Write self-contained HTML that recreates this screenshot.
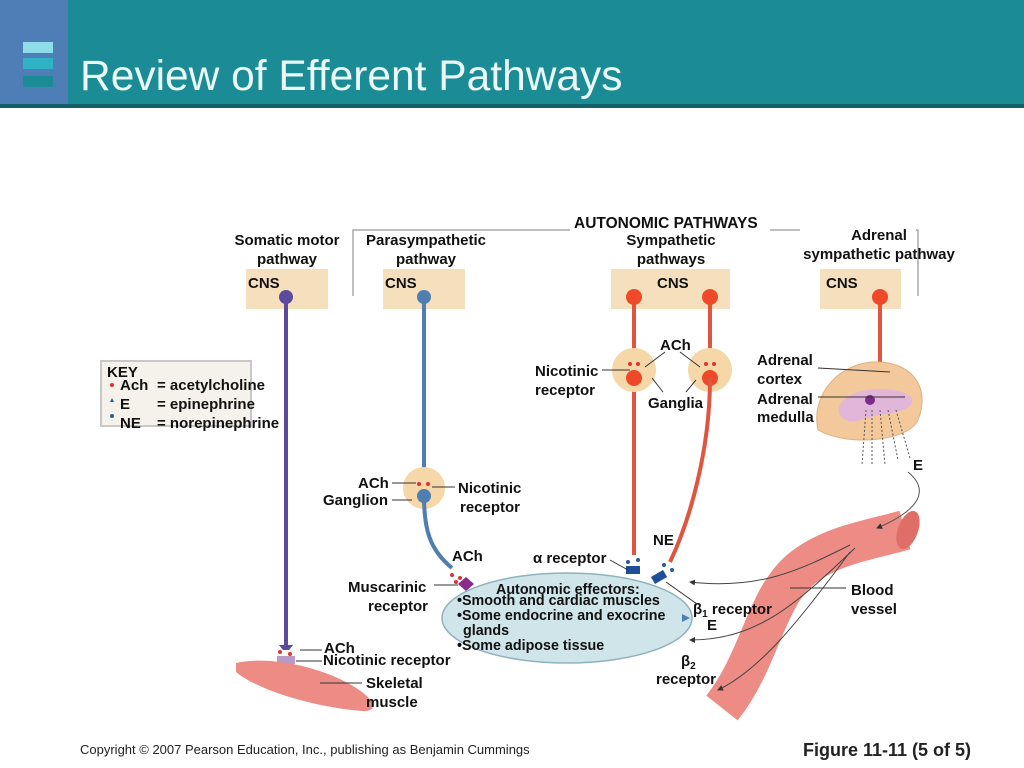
<!DOCTYPE html>
<html><head><meta charset="utf-8"><style>
html,body{margin:0;padding:0;width:1024px;height:768px;overflow:hidden;background:#fff;font-family:"Liberation Sans",Arial,sans-serif}
svg text{font-family:"Liberation Sans",Arial,sans-serif;font-weight:bold;font-size:15px;fill:#111}
</style></head><body>
<svg width="1024" height="768" viewBox="0 0 1024 768" xmlns="http://www.w3.org/2000/svg">
<defs>
<marker id="ah" markerWidth="6" markerHeight="6" refX="5" refY="3" orient="auto"><path d="M0,0L6,3L0,6z" fill="#333"/></marker>
</defs>
<!-- header -->
<rect x="0" y="0" width="1024" height="106" fill="#1b8b95"/>
<rect x="0" y="0" width="68" height="106" fill="#4f7eb6"/>
<rect x="0" y="104" width="1024" height="4" fill="#14606a"/>
<rect x="23" y="42" width="30" height="11" fill="#8fdde8"/>
<rect x="23" y="58" width="30" height="11" fill="#2fb3c4"/>
<rect x="23" y="76" width="30" height="11" fill="#1b8b95"/>
<text x="80" y="90" style="font-weight:normal;font-size:42.5px;fill:#eaf8f8">Review of Efferent Pathways</text>

<!-- blood vessel (behind labels) -->
<path d="M722,708 C760,660 765,600 800,570 C830,545 870,540 905,530" fill="none" stroke="#ec8c84" stroke-width="40"/>
<ellipse cx="908" cy="530" rx="10" ry="20" transform="rotate(20 908 530)" fill="#e06e68"/>
<path d="M850,545 C800,570 760,590 690,582" fill="none" stroke="#444" marker-end="url(#ah)"/>
<path d="M855,548 C800,600 760,640 690,640" fill="none" stroke="#444" marker-end="url(#ah)"/>
<path d="M850,552 C800,620 760,670 718,690" fill="none" stroke="#444" marker-end="url(#ah)"/>
<text x="851" y="595">Blood</text><text x="851" y="614">vessel</text>
<line x1="790" y1="588" x2="846" y2="588" stroke="#333"/>

<!-- bracket -->
<path d="M353,296 V230 H918 V296" fill="none" stroke="#aaa" stroke-width="1.5"/>
<rect x="570" y="214" width="200" height="18" fill="#fff"/>
<text x="574" y="228" style="font-size:15.5px">AUTONOMIC PATHWAYS</text>
<text x="287" y="245" text-anchor="middle">Somatic motor</text>
<text x="287" y="264" text-anchor="middle">pathway</text>
<text x="426" y="245" text-anchor="middle">Parasympathetic</text>
<text x="426" y="264" text-anchor="middle">pathway</text>
<text x="671" y="245" text-anchor="middle">Sympathetic</text>
<text x="671" y="264" text-anchor="middle">pathways</text>
<rect x="800" y="226" width="116" height="18" fill="#fff"/>
<text x="879" y="240" text-anchor="middle">Adrenal</text>
<text x="879" y="259" text-anchor="middle">sympathetic pathway</text>

<!-- CNS boxes -->
<rect x="246" y="269" width="82" height="40" fill="#f5dfbd"/>
<rect x="383" y="269" width="82" height="40" fill="#f5dfbd"/>
<rect x="611" y="269" width="119" height="40" fill="#f5dfbd"/>
<rect x="820" y="269" width="81" height="40" fill="#f5dfbd"/>
<text x="248" y="288">CNS</text><text x="385" y="288">CNS</text>
<text x="657" y="288">CNS</text><text x="826" y="288">CNS</text>

<!-- KEY -->
<rect x="101" y="361" width="150" height="65" fill="#f4f2ea" stroke="#c8c8c8" stroke-width="2"/>
<text x="107" y="377">KEY</text>
<circle cx="112" cy="385" r="2" fill="#d33"/><path d="M110,402l2,-4l2,4z" fill="#2a5a9a"/><circle cx="112" cy="416" r="2" fill="#2a5a9a"/>
<text x="120" y="390">Ach</text><text x="157" y="390">= acetylcholine</text>
<text x="120" y="409">E</text><text x="157" y="409">= epinephrine</text>
<text x="120" y="428">NE</text><text x="157" y="428">= norepinephrine</text>

<!-- somatic -->
<line x1="286" y1="297" x2="286" y2="645" stroke="#5c4b9c" stroke-width="4"/>
<circle cx="286" cy="297" r="7" fill="#5c4b9c"/>
<path d="M279,645h14l-4,5h-6z" fill="#5c4b9c"/>
<circle cx="280" cy="652" r="2" fill="#d33"/><circle cx="290" cy="654" r="2" fill="#d33"/><circle cx="285" cy="658" r="2" fill="#d33"/>
<rect x="277" y="656" width="18" height="8" fill="#b99bc8"/>
<path d="M236,663 C270,655 330,668 362,692 C378,704 375,712 362,711 C320,708 260,692 236,672z" fill="#ec8c84"/>
<line x1="300" y1="650" x2="322" y2="650" stroke="#333"/><text x="324" y="653">ACh</text>
<line x1="296" y1="661" x2="322" y2="661" stroke="#333"/><text x="323" y="665">Nicotinic receptor</text>
<line x1="320" y1="683" x2="362" y2="683" stroke="#333"/><text x="366" y="688">Skeletal</text><text x="366" y="707">muscle</text>

<!-- parasympathetic -->
<line x1="424" y1="297" x2="424" y2="478" stroke="#4f7fb0" stroke-width="4"/>
<circle cx="424" cy="297" r="7" fill="#4f7fb0"/>
<circle cx="424" cy="488" r="21" fill="#f5d7a8"/>
<circle cx="419" cy="484" r="2" fill="#d33"/><circle cx="428" cy="484" r="2" fill="#d33"/>
<circle cx="424" cy="496" r="7" fill="#4f7fb0"/>
<path d="M424,496 C424,530 430,550 452,568" fill="none" stroke="#4f7fb0" stroke-width="4"/>
<circle cx="452" cy="575" r="2" fill="#d33"/><circle cx="460" cy="578" r="2" fill="#d33"/><circle cx="456" cy="582" r="2" fill="#d33"/>
<path d="M458,584l8,-7l8,7l-8,7z" fill="#8a2b8a"/>
<line x1="392" y1="483" x2="416" y2="483" stroke="#333"/><text x="358" y="488">ACh</text>
<line x1="392" y1="500" x2="412" y2="500" stroke="#333"/><text x="323" y="505">Ganglion</text>
<line x1="432" y1="487" x2="455" y2="487" stroke="#333"/><text x="458" y="493">Nicotinic</text><text x="460" y="512">receptor</text>
<text x="452" y="561">ACh</text>
<line x1="434" y1="585" x2="458" y2="585" stroke="#333"/><text x="348" y="592">Muscarinic</text><text x="368" y="611">receptor</text>

<!-- effector ellipse -->
<ellipse cx="567" cy="618" rx="125" ry="45" fill="#cfe5ea" stroke="#8fb3bd" stroke-width="1.5"/>
<g style="font-size:14.3px">
<text x="496" y="594" style="font-size:14.3px">Autonomic effectors:</text>
<text x="457" y="605" style="font-size:14.3px">•Smooth and cardiac muscles</text>
<text x="457" y="620" style="font-size:14.3px">•Some endocrine and exocrine</text>
<text x="463" y="635" style="font-size:14.3px">glands</text>
<text x="457" y="650" style="font-size:14.3px">•Some adipose tissue</text>
</g>

<!-- sympathetic -->
<line x1="634" y1="297" x2="634" y2="555" stroke="#e0553f" stroke-width="4"/>
<circle cx="634" cy="297" r="8" fill="#ee4a2a"/>
<circle cx="634" cy="370" r="22" fill="#f5d7a8"/>
<circle cx="634" cy="378" r="8" fill="#ee4a2a"/>
<circle cx="630" cy="364" r="2" fill="#d33"/><circle cx="638" cy="364" r="2" fill="#d33"/>
<path d="M710,297 V365" stroke="#e0553f" stroke-width="4"/>
<circle cx="710" cy="297" r="8" fill="#ee4a2a"/>
<circle cx="710" cy="370" r="22" fill="#f5d7a8"/>
<circle cx="710" cy="378" r="8" fill="#ee4a2a"/>
<circle cx="706" cy="364" r="2" fill="#d33"/><circle cx="714" cy="364" r="2" fill="#d33"/>
<path d="M710,378 C710,450 690,520 670,562" fill="none" stroke="#e0553f" stroke-width="4"/>
<rect x="626" y="566" width="14" height="8" fill="#1f4f9a"/><rect x="652" y="573" width="14" height="8" fill="#1f4f9a" transform="rotate(-30 659 577)"/>
<circle cx="628" cy="562" r="2" fill="#2a5a9a"/><circle cx="638" cy="560" r="2" fill="#2a5a9a"/><circle cx="664" cy="565" r="2" fill="#2a5a9a"/><circle cx="672" cy="570" r="2" fill="#2a5a9a"/>
<text x="660" y="350">ACh</text>
<line x1="665" y1="352" x2="645" y2="367" stroke="#333"/><line x1="680" y1="352" x2="700" y2="367" stroke="#333"/>
<text x="535" y="376">Nicotinic</text><text x="535" y="395">receptor</text>
<line x1="602" y1="370" x2="630" y2="370" stroke="#333"/>
<text x="648" y="408">Ganglia</text>
<line x1="663" y1="392" x2="652" y2="378" stroke="#333"/><line x1="686" y1="392" x2="696" y2="380" stroke="#333"/>
<text x="653" y="545">NE</text>
<text x="533" y="563">α receptor</text>
<line x1="610" y1="560" x2="628" y2="570" stroke="#333"/>
<text x="693" y="614">β<tspan font-size="10" dy="3">1</tspan><tspan dy="-3"> receptor</tspan></text>
<text x="707" y="630">E</text>
<line x1="666" y1="582" x2="697" y2="604" stroke="#333"/>
<text x="681" y="666">β<tspan font-size="10" dy="3">2</tspan></text>
<text x="656" y="684">receptor</text>
<path d="M690,618 l-8,-4 v8z" fill="#4f7fb0"/>

<!-- adrenal -->
<line x1="880" y1="297" x2="880" y2="395" stroke="#e0553f" stroke-width="4"/>
<circle cx="880" cy="297" r="8" fill="#ee4a2a"/>
<path d="M818,430 C810,395 840,360 880,362 C915,364 930,390 918,420 C910,440 850,448 818,430z" fill="#f3c89a" stroke="#e0b080"/>
<path d="M840,405 C850,385 900,385 912,398 C915,415 880,412 860,420 C845,425 835,415 840,405z" fill="#e2b6d8"/>
<circle cx="870" cy="400" r="5" fill="#7a2a8a"/>
<text x="757" y="365">Adrenal</text><text x="757" y="384">cortex</text>
<text x="757" y="404">Adrenal</text><text x="757" y="422">medulla</text>
<line x1="818" y1="368" x2="890" y2="372" stroke="#333"/>
<line x1="818" y1="397" x2="905" y2="397" stroke="#333"/>
<g stroke="#555" stroke-dasharray="2,2" fill="none">
<path d="M866,410 L862,465"/><path d="M872,410 L872,465"/><path d="M880,410 L885,465"/><path d="M888,410 L898,460"/><path d="M896,410 L910,458"/>
</g>
<text x="913" y="470">E</text>
<path d="M908,472 C930,490 920,510 877,528" fill="none" stroke="#555" marker-end="url(#ah)"/>

<!-- footer -->
<text x="80" y="754" style="font-weight:normal;font-size:13px;fill:#222">Copyright © 2007 Pearson Education, Inc., publishing as Benjamin Cummings</text>
<text x="803" y="756" style="font-size:18px;fill:#222">Figure 11-11 (5 of 5)</text>
</svg>
</body></html>
